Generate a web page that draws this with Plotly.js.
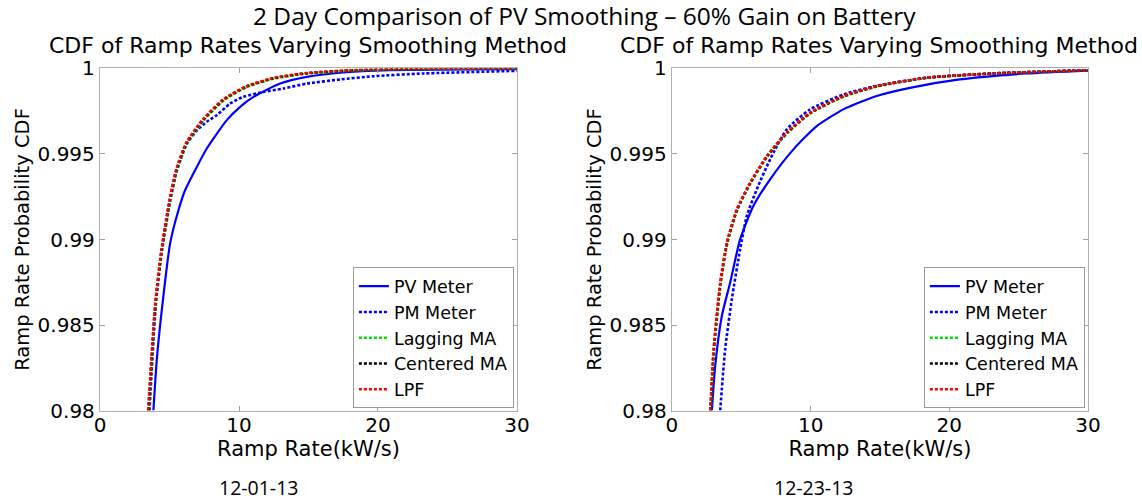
<!DOCTYPE html>
<html>
<head>
<meta charset="utf-8">
<script src="https://cdn.plot.ly/plotly-3.0.1.min.js"></script>
<style>html,body{margin:0;padding:0;background:#fff;}#chart{width:1142px;height:501px;}</style>
</head>
<body>
<div id="chart"></div>
<script>
// ---- Data ----
const seriesNames = ["PV Meter", "PM Meter", "Lagging MA", "Centered MA", "LPF"];
const seriesColors = ["#0000ff", "#0000ff", "#00dd00", "#000000", "#ff0000"];
const seriesDash = ["solid", "3px,2px", "3px,2px", "3px,2px", "3px,2px"];

// Left plot: 12-01-13
const leftPVx = [3.84, 4.08, 4.44, 5.04, 5.64, 6.12, 6.96, 7.68, 9.12, 10.08, 11.04, 12.96, 14.88, 17.28, 20.9, 30];
const leftPVy = [0.98, 0.98293, 0.98585, 0.98976, 0.99171, 0.99288, 0.99424, 0.99532, 0.99698, 0.99776, 0.99834, 0.99912, 0.99951, 0.99975, 0.9999, 0.99996];
const leftPMx = [3.56, 4.02, 4.46, 5.06, 5.54, 6.26, 7.0, 7.7, 8.4, 9.36, 10.3, 11.76, 13.2, 14.9, 17.3, 19.7, 23.3, 30];
const leftPMy = [0.98, 0.98624, 0.98937, 0.99229, 0.99405, 0.99561, 0.99640, 0.99690, 0.99727, 0.99795, 0.99834, 0.99863, 0.99883, 0.99912, 0.99936, 0.99955, 0.99971, 0.99986];
const leftLagx = [3.50, 4.0, 4.44, 5.04, 5.52, 6.24, 7.44, 8.88, 10.56, 12.48, 14.88, 18.5, 23.0, 30];
const leftLagy = [0.98, 0.98620, 0.98935, 0.99228, 0.99403, 0.99558, 0.99695, 0.99812, 0.99891, 0.99940, 0.99970, 0.99989, 0.99998, 1.0];
const leftCenx = [3.48, 3.99, 4.43, 5.02, 5.50, 6.22, 7.42, 8.86, 10.52, 12.44, 14.84, 18.4, 23.0, 30];
const leftCeny = [0.98, 0.98626, 0.98939, 0.99231, 0.99407, 0.99563, 0.99700, 0.99816, 0.99894, 0.99942, 0.99972, 0.99990, 0.99998, 1.0];
const leftLPFx = [3.46, 3.97, 4.42, 5.0, 5.48, 6.2, 7.4, 8.84, 10.5, 12.4, 14.8, 18.4, 23.0, 30];
const leftLPFy = [0.98, 0.98630, 0.98942, 0.99234, 0.99410, 0.99566, 0.99702, 0.99818, 0.99895, 0.99943, 0.99973, 0.99991, 0.99998, 1.0];

// Right plot: 12-23-13
const rightPVx = [2.88, 3.12, 3.6, 4.2, 4.92, 5.88, 7.08, 8.76, 10.44, 12.36, 14.76, 17.16, 20.76, 25.56, 30];
const rightPVy = [0.98, 0.98263, 0.98554, 0.98749, 0.99002, 0.99197, 0.99352, 0.99527, 0.99663, 0.99761, 0.99839, 0.99887, 0.99936, 0.99971, 0.99988];
const rightPMx = [3.48, 3.84, 4.32, 4.92, 5.4, 6.12, 7.08, 8.28, 9.96, 12.36, 14.76, 18.36, 23.16, 30];
const rightPMy = [0.98, 0.98360, 0.98652, 0.98944, 0.99138, 0.99294, 0.99469, 0.99644, 0.99761, 0.99848, 0.99899, 0.99946, 0.99971, 0.99990];
const rightLagx = [2.80, 3.04, 3.52, 4.0, 4.72, 5.68, 6.88, 8.32, 10.0, 12.4, 14.8, 18.4, 23.2, 30];
const rightLagy = [0.98, 0.98355, 0.98745, 0.98980, 0.99175, 0.99331, 0.99486, 0.99622, 0.99738, 0.99836, 0.99895, 0.99945, 0.99970, 0.9999];
const rightCenx = [2.78, 3.02, 3.50, 3.98, 4.70, 5.66, 6.86, 8.30, 9.98, 12.38, 14.78, 18.38, 23.18, 30];
const rightCeny = [0.98, 0.98358, 0.98747, 0.98982, 0.99176, 0.99332, 0.99487, 0.99624, 0.99740, 0.99838, 0.99896, 0.99946, 0.99971, 0.9999];
const rightLPFx = [2.76, 3.0, 3.48, 3.96, 4.68, 5.64, 6.84, 8.28, 9.96, 12.36, 14.76, 18.36, 23.16, 30];
const rightLPFy = [0.98, 0.9836, 0.98749, 0.98983, 0.99177, 0.99333, 0.99488, 0.99625, 0.99741, 0.99839, 0.99897, 0.99946, 0.99971, 0.9999];

const xTickVals = [0, 10, 20, 30];
const xTickText = ["0", "10", "20", "30"];
const yTickVals = [0.98, 0.985, 0.99, 0.995, 1];
const yTickText = ["0.98", "0.985", "0.99", "0.995", "1"];

const mainTitle = "2 Day Comparison of PV Smoothing \u2013 60% Gain on Battery";
const subTitle = "CDF of Ramp Rates Varying Smoothing Method";
const xTitle = "Ramp Rate(kW/s)";
const yTitle = "Ramp Rate Probability CDF";
const dateLabels = ["12-01-13", "12-23-13"];

// ---- Build traces ----
const leftData = [[leftPVx, leftPVy], [leftPMx, leftPMy], [leftLagx, leftLagy], [leftCenx, leftCeny], [leftLPFx, leftLPFy]];
const rightData = [[rightPVx, rightPVy], [rightPMx, rightPMy], [rightLagx, rightLagy], [rightCenx, rightCeny], [rightLPFx, rightLPFy]];

const traces = [];
function addSet(data, xa, ya, leg) {
  data.forEach((d, i) => {
    traces.push({
      x: d[0], y: d[1], type: "scatter", mode: "lines",
      name: seriesNames[i], xaxis: xa, yaxis: ya, legend: leg,
      line: {color: seriesColors[i], dash: seriesDash[i], width: i === 0 ? 2.2 : 2.6, shape: "spline", smoothing: 0.6},
      hoverinfo: "x+y"
    });
  });
}
addSet(leftData, "x", "y", "legend");
addSet(rightData, "x2", "y2", "legend2");

const fontAx = "DejaVu Sans, Liberation Sans, sans-serif";
const fontCal = "Open Sans, Noto Sans, sans-serif";

function xaxisDef(domain, anchor) {
  return {
    domain: domain, anchor: anchor, range: [0, 30], tickvals: xTickVals, ticktext: xTickText,
    ticks: "inside", ticklen: 5, tickcolor: "#a0a0a0", showgrid: false, zeroline: false,
    showline: true, linecolor: "#b0b0b0", linewidth: 1.2, mirror: "ticks",
    ticklabelstandoff: -4,
    tickfont: {family: fontAx, size: 20, color: "#000"},
    title: {text: xTitle, font: {family: fontAx, size: 21, color: "#000"}, standoff: 0}
  };
}
function yaxisDef(domain, anchor) {
  return {
    domain: domain, anchor: anchor, range: [0.98, 1], tickvals: yTickVals, ticktext: yTickText,
    ticks: "inside", ticklen: 5, tickcolor: "#a0a0a0", showgrid: false, zeroline: false,
    showline: true, linecolor: "#b0b0b0", linewidth: 1.2, mirror: "ticks",
    tickfont: {family: fontAx, size: 20, color: "#000"},
    title: {text: yTitle, font: {family: fontAx, size: 19.5, color: "#000"}, standoff: 2}
  };
}

const legendDef = (x) => ({
  x: x, y: 0.185, xanchor: "right", yanchor: "bottom",
  bgcolor: "#ffffff", bordercolor: "#9a9a9a", borderwidth: 1,
  font: {family: fontAx, size: 17.5, color: "#000"},
  tracegroupgap: 0, itemwidth: 30
});

const layout = {
  width: 1142, height: 501,
  margin: {l: 0, r: 0, t: 0, b: 0},
  paper_bgcolor: "#ffffff", plot_bgcolor: "#ffffff",
  showlegend: true,
  xaxis: xaxisDef([0.0876, 0.4527], "y"),
  yaxis: yaxisDef([0.1806, 0.8633], "x"),
  xaxis2: xaxisDef([0.5884, 0.9527], "y2"),
  yaxis2: yaxisDef([0.1806, 0.8633], "x2"),
  legend: legendDef(0.4500),
  legend2: legendDef(0.9500),
  annotations: [
    {text: mainTitle, xref: "paper", yref: "paper", x: 584/1142, y: 1 - 15/501, xanchor: "center", yanchor: "middle",
     showarrow: false, font: {family: fontCal, size: 24.5, color: "#000"}},
    {text: subTitle, xref: "paper", yref: "paper", x: 308/1142, y: 1 - 46/501, xanchor: "center", yanchor: "middle",
     showarrow: false, font: {family: fontAx, size: 22, color: "#000"}},
    {text: subTitle, xref: "paper", yref: "paper", x: 879/1142, y: 1 - 46/501, xanchor: "center", yanchor: "middle",
     showarrow: false, font: {family: fontAx, size: 22, color: "#000"}},
    {text: dateLabels[0], xref: "paper", yref: "paper", x: 258/1142, y: 1 - 487/501, xanchor: "center", yanchor: "middle",
     showarrow: false, font: {family: fontCal, size: 19.5, color: "#000"}},
    {text: dateLabels[1], xref: "paper", yref: "paper", x: 813/1142, y: 1 - 487/501, xanchor: "center", yanchor: "middle",
     showarrow: false, font: {family: fontCal, size: 19.5, color: "#000"}}
  ]
};

Plotly.newPlot("chart", traces, layout, {staticPlot: true, displayModeBar: false});
</script>
</body>
</html>
